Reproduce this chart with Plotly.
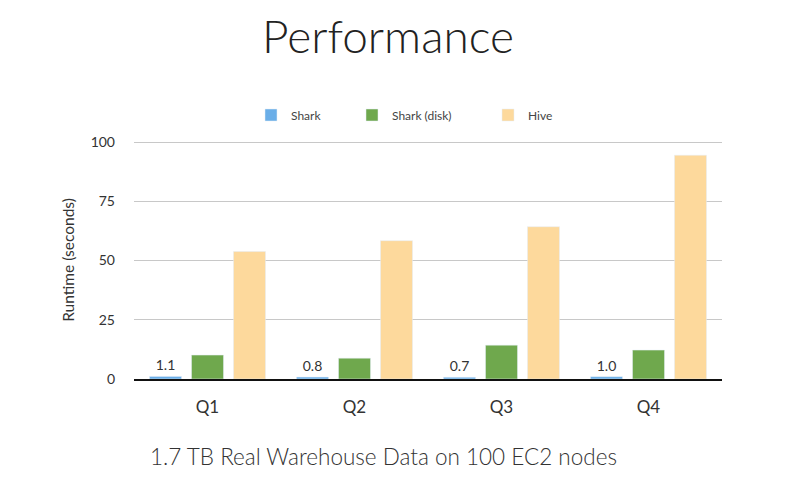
import plotly.graph_objects as go

categories = ["Q1", "Q2", "Q3", "Q4"]
shark = [1.1, 0.8, 0.7, 1.0]
shark_disk = [10.1, 8.8, 14.3, 12.2]
hive = [53.8, 58.4, 64.3, 94.5]
shark_labels = ["1.1", "0.8", "0.7", "1.0"]
y_ticks = [0, 25, 50, 75, 100]

# page offset of the figure inside the browser window
OX, OY = 8, 8
L, R, T, B = 134 - OX, 85, 141 - OY, 125

fig = go.Figure()
fig.add_trace(go.Bar(name="Shark", x=categories, y=shark, marker_color="#6aaee8",
                     text=shark_labels, textposition="outside", cliponaxis=False,
                     textfont=dict(family="Lato", size=14, color="#333333"),
                     legend="legend"))
fig.add_trace(go.Bar(name="Shark (disk)", x=categories, y=shark_disk, marker_color="#6fa84d",
                     legend="legend2"))
fig.add_trace(go.Bar(name="Hive", x=categories, y=hive, marker_color="#fdd99c",
                     legend="legend3"))

pw = 799 - L - R
ph = 496 - T - B

def px(xw):
    return (xw - OX - L) / pw

def py(yw):
    return (496 - B - (yw - OY)) / ph

leg_common = dict(orientation="h", xanchor="left", yanchor="middle",
                  font=dict(size=12, color="#444444"), itemwidth=30,
                  bgcolor="rgba(0,0,0,0)")

fig.update_layout(
    width=799, height=496,
    paper_bgcolor="white", plot_bgcolor="white",
    margin=dict(l=L, r=R, t=T, b=B),
    barmode="group", bargap=0.143, bargroupgap=0.238,
    font=dict(family="Lato", color="#333333"),
    showlegend=True,
    legend=dict(x=px(251), y=py(115), **leg_common),
    legend2=dict(x=px(352), y=py(115), **leg_common),
    legend3=dict(x=px(488), y=py(115), **leg_common),
    xaxis=dict(showgrid=False, showline=True, linecolor="#111111", linewidth=1.5,
               tickfont=dict(size=17, color="#333333"), ticks="", ticklabelstandoff=12),
    yaxis=dict(range=[0, 100.5], tickvals=y_ticks, showgrid=True, gridcolor="#c8c8c8",
               gridwidth=1, zeroline=False, showline=False,
               tickfont=dict(size=14, color="#333333"), ticklabelstandoff=18,
               title=dict(text="Runtime (seconds)", font=dict(size=15.5, color="#333333"),
                          standoff=12)),
    annotations=[
        dict(text="Performance", x=px(388), y=py(35), xref="paper", yref="paper",
             xanchor="center", yanchor="middle", showarrow=False,
             font=dict(family="Lato", size=46, color="#222222", weight=300)),
        dict(text="1.7 TB Real Warehouse Data on 100 EC2 nodes", x=px(148), y=py(456),
             xref="paper", yref="paper", xanchor="left", yanchor="middle", showarrow=False,
             font=dict(family="Lato", size=22.5, color="#333333", weight=300)),
    ],
)

fig.write_html("out.html")
